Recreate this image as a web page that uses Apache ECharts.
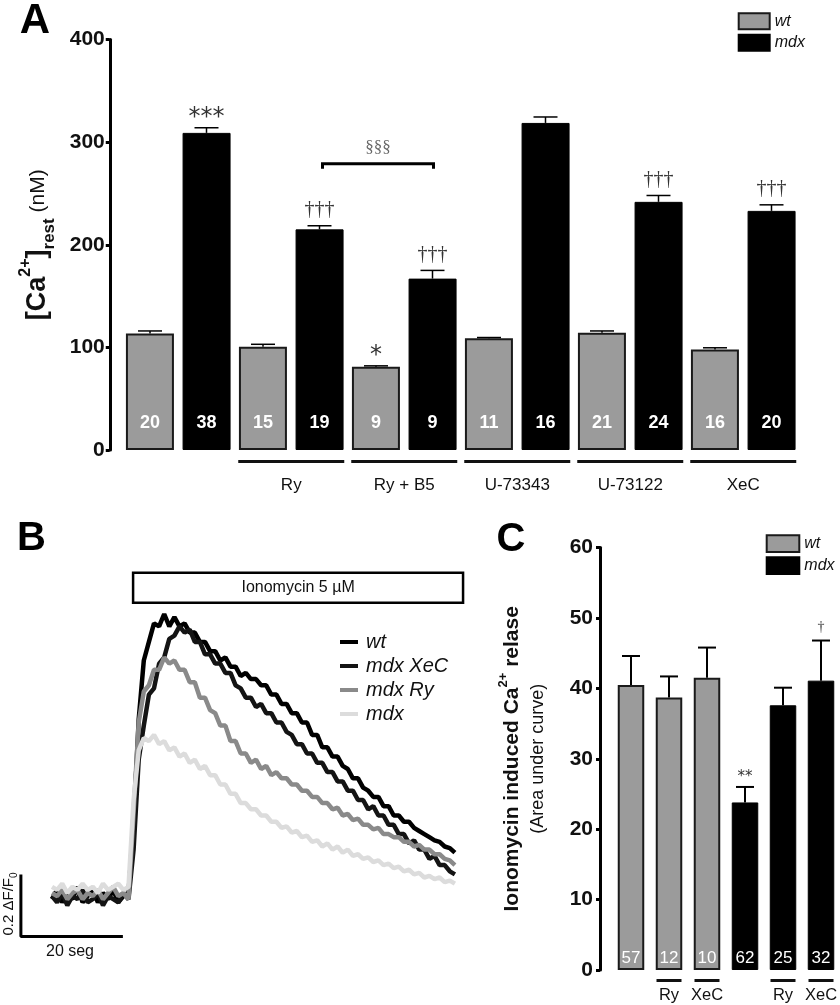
<!DOCTYPE html>
<html>
<head>
<meta charset="utf-8">
<title>Ca rest / ionomycin</title>
<script src="https://cdn.jsdelivr.net/npm/echarts@6/dist/echarts.min.js"></script>
<style>
  html, body { margin: 0; padding: 0; background: #fff; }
  #chart { width: 840px; height: 1005px; }
</style>
</head>
<body>
<div id="chart"></div>
<script>
// ---- panel A : resting calcium ----
const aGroups = ['', 'Ry', 'Ry + B5', 'U-73343', 'U-73122', 'XeC'];
const aWt = [113.6, 100.6, 81, 108.8, 114.2, 98];
const aWtErr = [2.4, 2.4, 1.0, 0.8, 1.8, 1.6];
const aMdx = [309, 215, 167, 318.7, 241.8, 233];
const aMdxErr = [5, 3.5, 8, 5.8, 6.2, 5.9];
const aWtN = [20, 15, 9, 11, 21, 16];
const aMdxN = [38, 19, 9, 16, 24, 20];
const aWtSig = ['', '', '*', '', '', ''];
const aMdxSig = ['***', '†††', '†††', '', '†††', '†††'];
const aBracketCats = [1, 2];   // mdx Ry vs mdx Ry + B5
const aBracketLevel = 279;
const aBracketSig = '§§§';

// ---- panel B : ionomycin traces (dF/F0, 1 s samples) ----
const traceTime = [0,1,2,3,4,5,6,7,8,9,10,11,12,13,14,15,16,17,18,19,20,21,22,23,24,25,26,27,28,29,
  30,31,32,33,34,35,36,37,38,39,40,41,42,43,44,45,46,47,48,49,50,51,52,53,54,55,56,57,58,59,
  60,61,62,63,64,65,66,67,68,69,70,71,72,73,74,75,76,77,78,79];
const traceWt = [-0.02,0.01,-0.03,0.00,-0.02,0.02,-0.03,-0.01,0.01,-0.03,0.00,-0.02,0.01,-0.03,-0.01,0.00,
  0.22,0.56,0.75,0.81,0.87,0.86,0.90,0.86,0.89,0.86,0.87,0.84,0.84,0.81,0.81,0.78,0.78,0.75,0.76,0.73,
  0.73,0.70,0.71,0.69,0.69,0.67,0.67,0.64,0.64,0.61,0.61,0.58,0.58,0.55,0.55,0.51,0.51,0.47,0.47,0.44,
  0.44,0.41,0.40,0.37,0.37,0.34,0.33,0.31,0.31,0.28,0.28,0.25,0.25,0.23,0.23,0.21,0.20,0.19,0.18,0.17,
  0.165,0.15,0.145,0.13];
const traceMdxXeC = [-0.01,-0.03,0.00,-0.04,-0.01,-0.02,0.01,-0.03,-0.02,0.00,-0.04,-0.01,-0.02,-0.03,0.00,-0.02,
  0.14,0.43,0.54,0.64,0.66,0.74,0.76,0.82,0.83,0.86,0.84,0.85,0.81,0.81,0.77,0.77,0.74,0.74,0.71,0.71,
  0.67,0.66,0.63,0.63,0.60,0.61,0.58,0.58,0.55,0.55,0.52,0.51,0.48,0.48,0.45,0.45,0.42,0.42,0.39,0.39,
  0.36,0.36,0.33,0.33,0.30,0.30,0.27,0.28,0.25,0.25,0.22,0.22,0.19,0.19,0.16,0.17,0.14,0.14,0.11,0.12,
  0.09,0.09,0.07,0.06];
const traceMdxRy = [0.00,-0.01,0.01,-0.02,0.00,0.01,-0.02,0.00,-0.01,0.01,-0.02,0.00,0.02,-0.01,0.00,-0.02,
  0.26,0.55,0.65,0.67,0.72,0.72,0.76,0.74,0.75,0.72,0.72,0.68,0.68,0.63,0.63,0.59,0.58,0.54,0.54,0.49,
  0.49,0.45,0.45,0.42,0.43,0.40,0.41,0.38,0.39,0.37,0.37,0.35,0.35,0.33,0.33,0.31,0.31,0.29,0.29,0.27,
  0.275,0.25,0.255,0.235,0.24,0.22,0.22,0.205,0.21,0.19,0.19,0.18,0.18,0.165,0.165,0.15,0.155,0.14,0.14,0.125,
  0.125,0.11,0.105,0.09];
const traceMdx = [0.02,0.01,0.03,0.00,0.02,0.01,0.03,0.01,0.02,0.00,0.03,0.01,0.02,0.03,0.01,0.02,
  0.30,0.46,0.50,0.49,0.51,0.48,0.49,0.46,0.47,0.44,0.45,0.42,0.43,0.40,0.41,0.38,0.38,0.35,0.35,0.32,
  0.32,0.29,0.29,0.27,0.27,0.25,0.25,0.23,0.23,0.21,0.215,0.195,0.20,0.18,0.185,0.165,0.17,0.15,0.16,0.14,
  0.15,0.13,0.14,0.12,0.125,0.11,0.115,0.10,0.105,0.09,0.095,0.08,0.085,0.07,0.075,0.06,0.065,0.05,0.055,0.045,
  0.05,0.035,0.04,0.03];
const ionoWindow = [15.9, 80.6];     // seconds
const ionoBand = [0.936, 1.033];     // drawn above the traces
const scaleBarX = [-6.1, -6.1, 13.9]; // 20 s
const scaleBarY = [0.06, -0.14, -0.14]; // 0.2 dF/F0

// ---- panel C : area under curve ----
const cCats = ['', 'Ry', 'XeC', '', 'Ry', 'XeC'];
const cGroup = ['wt', 'wt', 'wt', 'mdx', 'mdx', 'mdx'];
const cMean = [40.5, 38.7, 41.5, 23.8, 37.6, 41.1];
const cErr = [4.1, 3.0, 4.3, 2.2, 2.5, 5.7];
const cN = [57, 12, 10, 62, 25, 32];
const cSig = ['', '', '', '**', '', '†'];

const FONT = '"Liberation Sans", Arial, sans-serif';

// error bar + significance mark, drawn through the axes
function errorItem(means, errs, sigs, shift, capW, lw, gap, starSize, daggerSize) {
  return function (params, api) {
    const i = params.dataIndex;
    const w = api.size([1, 0])[0];
    const base = api.coord([i, means[i]]);
    const top = api.coord([i, means[i] + errs[i]]);
    const x = base[0] + shift * w;
    const kids = [
      { type: 'line', shape: { x1: x, y1: base[1], x2: x, y2: top[1] }, style: { stroke: '#000', lineWidth: lw } },
      { type: 'line', shape: { x1: x - capW / 2, y1: top[1], x2: x + capW / 2, y2: top[1] }, style: { stroke: '#000', lineWidth: lw } }
    ];
    const s = sigs[i];
    if (s) {
      const star = s.indexOf('*') >= 0;
      const fs = star ? starSize : daggerSize;
      kids.push({
        type: 'text', x: x, y: top[1] - gap + (star ? fs * 0.24 : 0),
        style: {
          text: s, fontSize: fs, fill: '#333',
          fontFamily: star ? '"DejaVu Sans", sans-serif' : '"Liberation Serif", serif',
          align: 'center', verticalAlign: 'middle'
        }
      });
    }
    return { type: 'group', children: kids };
  };
}

function groupLabel(width, textSize, textLH) {
  return {
    interval: 0,
    formatter: v => v ? '{ln| }\n{t|' + v + '}' : '',
    rich: {
      ln: { width: width, height: 3, lineHeight: 3, backgroundColor: '#111' },
      t: { fontSize: textSize, lineHeight: textLH, color: '#111', fontFamily: FONT }
    }
  };
}

const chart = echarts.init(document.getElementById('chart'));

const option = {
  animation: false,
  backgroundColor: '#fff',
  textStyle: { fontFamily: FONT },
  grid: [
    { left: 121.75, top: 39.5, width: 678, height: 410.5 },
    { left: 16.3, top: 567.5, width: 448.8, height: 372 },
    { left: 612, top: 547.6, width: 230, height: 422.4 }
  ],
  xAxis: [
    {
      type: 'category', gridIndex: 0, data: aGroups,
      axisLine: { show: false }, axisTick: { show: false },
      axisLabel: Object.assign({ margin: 10 }, groupLabel(106, 17, 44))
    },
    { type: 'value', gridIndex: 1, min: -7, max: 81, show: false },
    {
      type: 'category', gridIndex: 2, data: cCats,
      axisLine: { show: false }, axisTick: { show: false },
      axisLabel: Object.assign({ margin: 9 }, groupLabel(25, 16.5, 26))
    }
  ],
  yAxis: [
    {
      type: 'value', gridIndex: 0, min: 0, max: 400, interval: 100, offset: 12,
      axisLine: { show: true, lineStyle: { color: '#000', width: 3 } },
      axisTick: { show: true, length: 4, lineStyle: { color: '#000', width: 3 } },
      axisLabel: { fontSize: 21, fontWeight: 'bold', color: '#111', margin: 5 },
      splitLine: { show: false },
      name: '{b|[Ca}{sup|2+}{b|]}{sub|rest}{n| (nM)}',
      nameLocation: 'middle', nameGap: 52,
      nameTextStyle: {
        rich: {
          b: { fontSize: 27, fontWeight: 'bold', color: '#111', lineHeight: 40 },
          sup: { fontSize: 16, fontWeight: 'bold', color: '#111', lineHeight: 40, verticalAlign: 'top' },
          sub: { fontSize: 17, fontWeight: 'bold', color: '#111', lineHeight: 40, verticalAlign: 'bottom' },
          n: { fontSize: 21, color: '#111', lineHeight: 40 }
        }
      }
    },
    { type: 'value', gridIndex: 1, min: -0.15, max: 1.05, show: false },
    {
      type: 'value', gridIndex: 2, min: 0, max: 60, interval: 10, offset: 12,
      axisLine: { show: true, lineStyle: { color: '#000', width: 3 } },
      axisTick: { show: true, length: 4, lineStyle: { color: '#000', width: 3 } },
      axisLabel: { fontSize: 21, fontWeight: 'bold', color: '#111', margin: 7 },
      splitLine: { show: false },
      name: '{t|Ionomycin induced Ca}{sup|2+}{t| relase}\n{s|(Area under curve)}',
      nameLocation: 'middle', nameGap: 51,
      nameTextStyle: {
        rich: {
          t: { fontSize: 21, fontWeight: 'bold', color: '#111', lineHeight: 30 },
          sup: { fontSize: 13, fontWeight: 'bold', color: '#111', lineHeight: 30, verticalAlign: 'top' },
          s: { fontSize: 18, color: '#111', lineHeight: 22 }
        }
      }
    }
  ],
  legend: [
    {
      data: ['wt', 'mdx'], orient: 'vertical', left: 737.7, top: 12.3, padding: 0,
      icon: 'rect', itemWidth: 31, itemHeight: 16, itemGap: 3.4,
      textStyle: { fontSize: 16, fontStyle: 'italic', color: '#111', lineHeight: 16 }
    },
    {
      data: ['wt ', 'mdx XeC', 'mdx Ry', 'mdx '], orient: 'vertical', left: 340, top: 632, padding: 0,
      icon: 'rect', itemWidth: 18, itemHeight: 4, itemGap: 4,
      formatter: n => n.trim(),
      textStyle: { fontSize: 20, fontStyle: 'italic', color: '#111', lineHeight: 20, padding: [0, 0, 0, 3] }
    },
    {
      data: ['wt', 'mdx'], orient: 'vertical', left: 765.7, top: 534.3, padding: 0,
      icon: 'rect', itemWidth: 32.6, itemHeight: 16.7, itemGap: 3.3,
      textStyle: { fontSize: 16, fontStyle: 'italic', color: '#111', lineHeight: 16.7 }
    }
  ],
  series: [
    // ---------- A ----------
    {
      name: 'wt', type: 'bar', xAxisIndex: 0, yAxisIndex: 0, data: aWt,
      barWidth: 48, barGap: '18%',
      itemStyle: { color: '#9b9b9b', borderColor: '#1a1a1a', borderWidth: 2 },
      label: {
        show: true, position: 'insideBottom', distance: 18,
        formatter: p => aWtN[p.dataIndex], color: '#fff', fontSize: 18, fontWeight: 'bold'
      }
    },
    {
      name: 'mdx', type: 'bar', xAxisIndex: 0, yAxisIndex: 0, data: aMdx,
      barWidth: 48, barGap: '18%',
      itemStyle: { color: '#000', borderColor: '#000', borderWidth: 1 },
      label: {
        show: true, position: 'insideBottom', distance: 18,
        formatter: p => aMdxN[p.dataIndex], color: '#fff', fontSize: 18, fontWeight: 'bold'
      }
    },
    {
      type: 'custom', xAxisIndex: 0, yAxisIndex: 0, z: 5,
      data: aWt.map((v, i) => [i, v]),
      renderItem: errorItem(aWt, aWtErr, aWtSig, -0.25, 24, 1.5, 16, 24, 20)
    },
    {
      type: 'custom', xAxisIndex: 0, yAxisIndex: 0, z: 5,
      data: aMdx.map((v, i) => [i, v]),
      renderItem: errorItem(aMdx, aMdxErr, aMdxSig, 0.25, 24, 1.5, 16, 24, 20)
    },
    {
      type: 'custom', xAxisIndex: 0, yAxisIndex: 0, z: 5,
      data: [[aBracketCats[0], aBracketCats[1], aBracketLevel]],
      encode: { x: [0, 1], y: 2 },
      renderItem: function (params, api) {
        const w = api.size([1, 0])[0];
        const p1 = api.coord([api.value(0), api.value(2)]);
        const p2 = api.coord([api.value(1), api.value(2)]);
        const x1 = p1[0] + 0.25 * w + 3, x2 = p2[0] + 0.25 * w + 1, y = p1[1];
        return {
          type: 'group', children: [
            { type: 'polyline', shape: { points: [[x1, y + 5], [x1, y], [x2, y], [x2, y + 5]] },
              style: { stroke: '#000', lineWidth: 3, fill: null } },
            { type: 'text', x: (x1 + x2) / 2, y: y - 16,
              style: { text: aBracketSig, fontSize: 17, fill: '#666', fontFamily: '"Liberation Serif", serif',
                align: 'center', verticalAlign: 'middle' } }
          ]
        };
      }
    },
    // ---------- B ----------
    {
      name: 'wt ', type: 'line', xAxisIndex: 1, yAxisIndex: 1,
      data: traceTime.map((t, i) => [t, traceWt[i]]),
      showSymbol: false, lineStyle: { color: '#000', width: 4.5 }, itemStyle: { color: '#000' },
      markArea: {
        silent: true,
        itemStyle: { color: '#fff', borderColor: '#000', borderWidth: 2.5 },
        label: { show: true, position: 'inside', color: '#111', fontSize: 16, formatter: 'Ionomycin 5 µM' },
        data: [[{ coord: [ionoWindow[0], ionoBand[0]] }, { coord: [ionoWindow[1], ionoBand[1]] }]]
      }
    },
    {
      name: 'mdx XeC', type: 'line', xAxisIndex: 1, yAxisIndex: 1,
      data: traceTime.map((t, i) => [t, traceMdxXeC[i]]),
      showSymbol: false, lineStyle: { color: '#141414', width: 4.5 }, itemStyle: { color: '#141414' }
    },
    {
      name: 'mdx Ry', type: 'line', xAxisIndex: 1, yAxisIndex: 1,
      data: traceTime.map((t, i) => [t, traceMdxRy[i]]),
      showSymbol: false, lineStyle: { color: '#8a8a8a', width: 4.5 }, itemStyle: { color: '#8a8a8a' }
    },
    {
      name: 'mdx ', type: 'line', xAxisIndex: 1, yAxisIndex: 1,
      data: traceTime.map((t, i) => [t, traceMdx[i]]),
      showSymbol: false, lineStyle: { color: '#dcdcdc', width: 4.5 }, itemStyle: { color: '#dcdcdc' }
    },
    {
      type: 'line', xAxisIndex: 1, yAxisIndex: 1, clip: false, silent: true,
      data: scaleBarX.map((x, i) => [x, scaleBarY[i]]),
      showSymbol: false, lineStyle: { color: '#000', width: 3 }
    },
    // ---------- C ----------
    {
      name: 'wt', type: 'bar', xAxisIndex: 2, yAxisIndex: 2,
      data: cMean.map((v, i) => cGroup[i] === 'wt' ? v : null),
      barWidth: 26.5, barGap: '-100%',
      itemStyle: { color: '#9b9b9b', borderColor: '#1a1a1a', borderWidth: 2 },
      label: { show: true, position: 'insideBottom', distance: 3.5,
        formatter: p => cN[p.dataIndex], color: '#fff', fontSize: 17 }
    },
    {
      name: 'mdx', type: 'bar', xAxisIndex: 2, yAxisIndex: 2,
      data: cMean.map((v, i) => cGroup[i] === 'mdx' ? v : null),
      barWidth: 26.5, barGap: '-100%',
      itemStyle: { color: '#000', borderColor: '#000', borderWidth: 1 },
      label: { show: true, position: 'insideBottom', distance: 3.5,
        formatter: p => cN[p.dataIndex], color: '#fff', fontSize: 17 }
    },
    {
      type: 'custom', xAxisIndex: 2, yAxisIndex: 2, z: 5,
      data: cMean.map((v, i) => [i, v]),
      renderItem: errorItem(cMean, cErr, cSig, 0, 18, 2, 13.5, 15, 14)
    }
  ],
  graphic: [
    { type: 'text', x: 35, y: 21, style: { text: 'A', fontSize: 42, fontWeight: 'bold', fill: '#000', align: 'center', verticalAlign: 'middle', fontFamily: FONT } },
    { type: 'text', x: 31.5, y: 538.5, style: { text: 'B', fontSize: 40, fontWeight: 'bold', fill: '#000', align: 'center', verticalAlign: 'middle', fontFamily: FONT } },
    { type: 'text', x: 511, y: 539.5, style: { text: 'C', fontSize: 40, fontWeight: 'bold', fill: '#000', align: 'center', verticalAlign: 'middle', fontFamily: FONT } },
    { type: 'text', x: 70, y: 952, style: { text: '20 seg', fontSize: 16, fill: '#111', align: 'center', verticalAlign: 'middle', fontFamily: FONT } },
    {
      type: 'text', x: 9, y: 904, rotation: Math.PI / 2,
      style: {
        text: '{a|0.2 ΔF/F}{s|0}', align: 'center', verticalAlign: 'middle', fontFamily: FONT,
        rich: { a: { fontSize: 15, fill: '#111', lineHeight: 20 }, s: { fontSize: 10, fill: '#111', lineHeight: 20, verticalAlign: 'bottom' } }
      }
    }
  ]
};

chart.setOption(option);
</script>
</body>
</html>
